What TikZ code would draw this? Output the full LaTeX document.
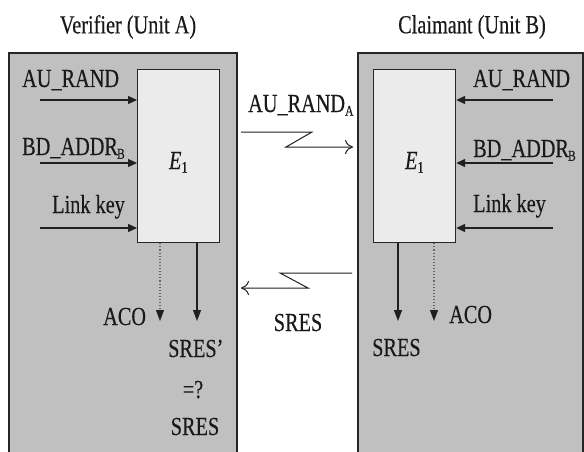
\documentclass[tikz,border=0pt]{standalone}
\usepackage{fontspec}
\setmainfont{Liberation Serif}[FakeStretch=0.78,FakeBold=0.25]
\usetikzlibrary{arrows.meta}
\definecolor{unitgray}{HTML}{C0C0C0}
\definecolor{cipherfill}{HTML}{EBEBEB}
\definecolor{wire}{HTML}{202020}
\begin{document}
\begin{tikzpicture}[x=1pt,y=-1pt,
  every node/.style={font=\fontsize{26}{28}\selectfont, inner sep=0pt, text=black!90},
  cipher/.style={draw=black!85, line width=1.2pt, fill=cipherfill, minimum width=82pt, minimum height=173pt, anchor=north west},
  inarrow/.style={draw=wire, line width=1.3pt, -{Triangle[length=9pt,width=8pt]}},
  outarrow/.style={draw=wire, line width=1.1pt, -{Triangle[length=11pt,width=8pt]}},
  acoarrow/.style={draw=black!60, line width=1.1pt, dotted, -{Triangle[length=11pt,width=8pt,fill=wire,color=wire]}},
  radio/.style={draw=wire, line width=1pt, -{To[length=8pt,width=14pt]}},
  unitframe/.style={draw=black!85, line width=1.3pt}]
\useasboundingbox (0,0) rectangle (584,452);
\fill[white] (0,0) rectangle (584,452);

% the two units
\fill[unitgray] (9,53) rectangle (237,452);
\draw[unitframe] (9,453) -- (9,53) -- (237,53) -- (237,453);
\fill[unitgray] (358,53) rectangle (583,452);
\draw[unitframe] (358,453) -- (358,53) -- (583,53) -- (583,453);

\node (titleA) at (128,27) {Verifier (Unit A)};
\node (titleB) at (472,27) {Claimant (Unit B)};

% E1 blocks
\node[cipher] (EA) at (137,69) {};
\node[cipher] (EB) at (373,69) {};
\node[anchor=base] (EAlbl) at (EA.center |- 0,169) {\textit{E}\textsubscript{\fontsize{16}{16}\selectfont 1}};
\node[anchor=base] (EBlbl) at (EB.center |- 0,169) {\textit{E}\textsubscript{\fontsize{16}{16}\selectfont 1}};

% inputs of unit A
\node[anchor=base west] (randA) at (22,87) {AU\_RAND};
\node[anchor=base west] (addrA) at (22,155) {BD\_ADDR\textsubscript{\kern-1pt\fontsize{15}{15}\selectfont B}};
\node[anchor=base west] (keyA) at (52,213) {Link key};
\coordinate (randAin) at (40,100);
\coordinate (addrAin) at (40,163);
\coordinate (keyAin) at (40,228);
\draw[inarrow] (randAin) -- (randAin -| EA.west);
\draw[inarrow] (addrAin) -- (addrAin -| EA.west);
\draw[inarrow] (keyAin) -- (keyAin -| EA.west);

% inputs of unit B
\node[anchor=base west] (randB) at (473,87) {AU\_RAND};
\node[anchor=base west] (addrB) at (473,157) {BD\_ADDR\textsubscript{\kern-1pt\fontsize{15}{15}\selectfont B}};
\node[anchor=base west] (keyB) at (473,212) {Link key};
\coordinate (randBin) at (553,100);
\coordinate (addrBin) at (553,163);
\coordinate (keyBin) at (553,228);
\draw[inarrow] (randBin) -- (randBin -| EB.east);
\draw[inarrow] (addrBin) -- (addrBin -| EB.east);
\draw[inarrow] (keyBin) -- (keyBin -| EB.east);

% outputs of unit A
\coordinate (acoAend) at (160,321);
\coordinate (sresAend) at (197,321);
\draw[acoarrow] (EA.south -| acoAend) -- (acoAend);
\draw[outarrow] (EA.south -| sresAend) -- (sresAend);
\node[anchor=base west] (acoA) at (103,325) {ACO};
\node[anchor=base west] (sresA) at (168,357) {SRES’};
\node[anchor=base] (cmpA) at (193,398) {=?};
\node[anchor=base] (sresRx) at (195,435) {SRES};

% outputs of unit B
\coordinate (sresBend) at (398,321);
\coordinate (acoBend) at (434,321);
\draw[outarrow] (EB.south -| sresBend) -- (sresBend);
\draw[acoarrow] (EB.south -| acoBend) -- (acoBend);
\node[anchor=base west] (sresB) at (372,356) {SRES};
\node[anchor=base west] (acoB) at (449,323) {ACO};

% radio link A -> B
\node[anchor=base west] (chal) at (248,112) {AU\_RAND\textsubscript{\fontsize{15}{15}\selectfont A}};
\coordinate (chalStart) at (241,132);
\coordinate (chalEnd) at (353,147);
\draw[radio] (chalStart) -- (312,132) -- (286,147) -- (chalEnd);

% radio link B -> A
\node[anchor=base] (resp) at (298,331) {SRES};
\coordinate (respStart) at (352,273);
\coordinate (respEnd) at (241,288);
\draw[radio] (respStart) -- (280,273) -- (308,288) -- (respEnd);
\end{tikzpicture}
\end{document}
